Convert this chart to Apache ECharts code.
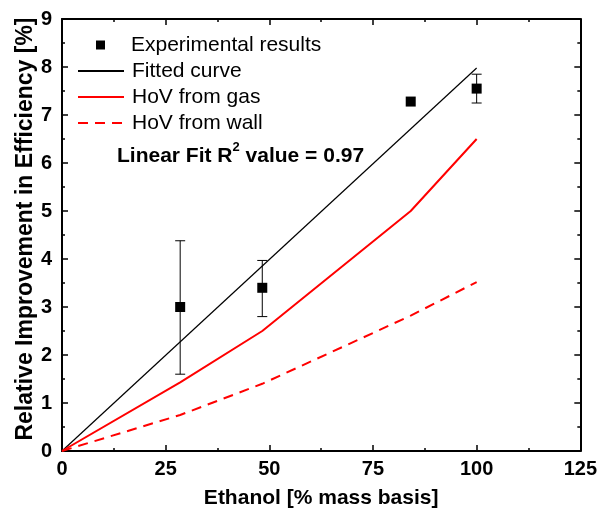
<!DOCTYPE html>
<html><head><meta charset="utf-8">
<script src="https://cdn.jsdelivr.net/npm/echarts@6/dist/echarts.min.js"></script>
<style>html,body{margin:0;padding:0;background:#fff}#c{width:600px;height:520px}</style>
</head><body><div id="c"></div>
<script>
// Data
const expX = [28.5, 48.3, 84.1, 100];
const expY = [3.0, 3.4, 7.28, 7.55];
const expLow = [1.6, 2.8, 7.28, 7.25];
const expHigh = [4.38, 3.97, 7.28, 7.85];
const fitX = [0, 100];
const fitY = [0, 7.98];
const gasX = [0, 28.5, 48.3, 84.1, 100];
const gasY = [0, 1.43, 2.5, 5.0, 6.5];
const wallX = [0, 28.5, 48.3, 84.1, 100];
const wallY = [0, 0.75, 1.4, 2.82, 3.52];
const xTicks = [0, 25, 50, 75, 100, 125];
const yTicks = [0, 1, 2, 3, 4, 5, 6, 7, 8, 9];

const FONT = '"Liberation Sans", Arial, sans-serif';
const pair = (xs, ys) => xs.map((x, i) => [x, ys[i]]);

const axisCommon = {
  axisLine: {show: true, onZero: false, lineStyle: {color: '#000', width: 2}},
  axisTick: {show: true, inside: true, length: 6, lineStyle: {color: '#000', width: 1.5}},
  minorTick: {show: true, splitNumber: 2, length: 3, lineStyle: {color: '#000', width: 1.5}},
  splitLine: {show: false}
};

const chart = echarts.init(document.getElementById('c'), null, {renderer: 'canvas'});
chart.setOption({
  animation: false,
  backgroundColor: '#fff',
  grid: {left: 62, right: 18, top: 19, bottom: 69},
  xAxis: [
    Object.assign({}, axisCommon, {
      type: 'value', min: xTicks[0], max: xTicks[xTicks.length - 1], interval: 25, position: 'bottom',
      name: 'Ethanol [% mass basis]', nameLocation: 'middle', nameGap: 37, nameMoveOverlap: false,
      nameTextStyle: {fontFamily: FONT, fontWeight: 'bold', fontSize: 21, color: '#000'},
      axisLabel: {fontFamily: FONT, fontWeight: 'bold', fontSize: 20, color: '#000', margin: 8}
    }),
    Object.assign({}, axisCommon, {
      type: 'value', min: xTicks[0], max: xTicks[xTicks.length - 1], interval: 25, position: 'top',
      axisLabel: {show: false}
    })
  ],
  yAxis: [
    Object.assign({}, axisCommon, {
      type: 'value', min: yTicks[0], max: yTicks[yTicks.length - 1], interval: 1, position: 'left',
      name: 'Relative Improvement in Efficiency [%]', nameLocation: 'middle', nameGap: 25, nameMoveOverlap: false,
      nameTextStyle: {fontFamily: FONT, fontWeight: 'bold', fontSize: 23, color: '#000', padding: [0, 0, 0, 12]},
      axisLabel: {fontFamily: FONT, fontWeight: 'bold', fontSize: 20, color: '#000', margin: 10}
    }),
    Object.assign({}, axisCommon, {
      type: 'value', min: yTicks[0], max: yTicks[yTicks.length - 1], interval: 1, position: 'right',
      axisLabel: {show: false}
    })
  ],
  legend: [
    {
      data: ['Experimental results'],
      left: 96, top: 34, orient: 'vertical', padding: 0,
      itemWidth: 9, itemHeight: 9, icon: 'rect',
      itemStyle: {opacity: 1},
      textStyle: {fontFamily: FONT, fontSize: 21, lineHeight: 22, color: '#000', padding: [0, 0, 0, 21]}
    },
    {
      data: ['Fitted curve', 'HoV from gas', 'HoV from wall'],
      left: 77, top: 60, orient: 'vertical', padding: 0,
      itemWidth: 46, itemHeight: 14, itemGap: 4,
      itemStyle: {opacity: 0},
      textStyle: {fontFamily: FONT, fontSize: 21, lineHeight: 22, color: '#000', padding: [0, 0, 0, 3]}
    }
  ],
  graphic: [{
    type: 'text', left: 117, top: 141,
    style: {
      text: '{b|Linear Fit R}{s|2}{b| value = 0.97}',
      rich: {
        b: {fontFamily: FONT, fontWeight: 'bold', fontSize: 21, fill: '#000', verticalAlign: 'bottom', lineHeight: 26},
        s: {fontFamily: FONT, fontWeight: 'bold', fontSize: 13, fill: '#000', verticalAlign: 'top', lineHeight: 26, padding: [0, 0, 9, 0]}
      }
    }
  }],
  series: [
    {
      name: 'Fitted curve', type: 'line', data: pair(fitX, fitY), symbol: 'none',
      lineStyle: {color: '#000', width: 1.2}, itemStyle: {color: '#000'}, z: 3
    },
    {
      name: 'HoV from gas', type: 'line', data: pair(gasX, gasY), symbol: 'none',
      lineStyle: {color: '#ff0000', width: 2}, itemStyle: {color: '#ff0000'}, z: 3
    },
    {
      name: 'HoV from wall', type: 'line', data: pair(wallX, wallY), symbol: 'none',
      lineStyle: {color: '#ff0000', width: 2, type: [10, 7]}, itemStyle: {color: '#ff0000'}, z: 3
    },
    {
      name: 'errbars', type: 'custom', z: 4,
      data: expX.map((x, i) => [x, expLow[i], expHigh[i]]),
      renderItem: function (params, api) {
        const lo = api.coord([api.value(0), api.value(1)]);
        const hi = api.coord([api.value(0), api.value(2)]);
        if (Math.abs(hi[1] - lo[1]) < 1) return {type: 'group', children: []};
        const cap = 5;
        const st = {stroke: '#000', lineWidth: 1};
        return {type: 'group', children: [
          {type: 'line', shape: {x1: lo[0], y1: lo[1], x2: hi[0], y2: hi[1]}, style: st},
          {type: 'line', shape: {x1: lo[0] - cap, y1: lo[1], x2: lo[0] + cap, y2: lo[1]}, style: st},
          {type: 'line', shape: {x1: hi[0] - cap, y1: hi[1], x2: hi[0] + cap, y2: hi[1]}, style: st}
        ]};
      }
    },
    {
      name: 'Experimental results', type: 'scatter', data: pair(expX, expY),
      symbol: 'rect', symbolSize: 10, itemStyle: {color: '#000', opacity: 1}, z: 5
    }
  ]
});
</script></body></html>
